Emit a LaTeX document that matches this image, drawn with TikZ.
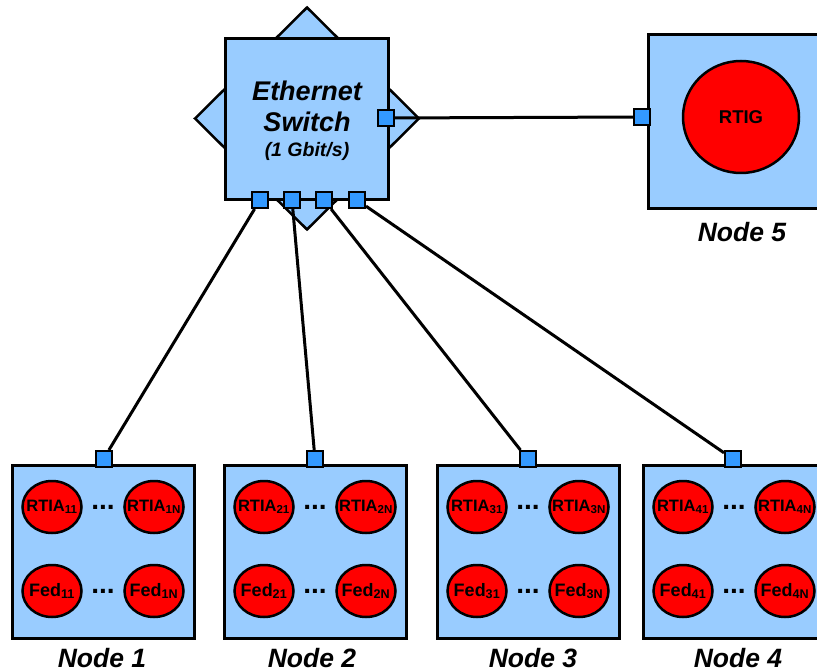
\documentclass[tikz,border=0pt]{standalone}
\usepackage{fontspec}
\setmainfont{Liberation Sans}
\usetikzlibrary{shapes.geometric}
\definecolor{boxblue}{RGB}{153,204,255}
\definecolor{portblue}{RGB}{51,153,255}
\definecolor{fedred}{RGB}{255,0,0}

\begin{document}
\begin{tikzpicture}[x=1pt,y=-1pt,
    hostbox/.style={draw,line width=3pt,fill=boxblue,minimum width=182pt,minimum height=173pt},
    port/.style={draw,line width=2pt,fill=portblue,minimum size=16pt,inner sep=0pt},
    proc/.style={draw,line width=2.5pt,fill=fedred,ellipse,minimum width=59pt,minimum height=52pt,inner xsep=-6pt,inner ysep=0pt,font=\fontsize{16.5}{16.5}\selectfont\bfseries},
    link/.style={line width=3pt},
    nodelabel/.style={anchor=base,inner sep=0pt,font=\fontsize{26.5}{26.5}\selectfont\bfseries\itshape},
    dots/.style={font=\fontsize{28}{28}\selectfont\bfseries,inner sep=0pt}]
    %\draw[help lines] (0,0) grid[step=50] (817,671);
    \useasboundingbox (0,0) rectangle (817,671);
    \clip (0,0) rectangle (817,671);
    % switch
    \node[draw,diamond,line width=2.5pt,fill=boxblue,minimum width=225pt,minimum height=223pt,inner sep=0pt] (swd) at (307,118.5) {};
    \node[hostbox,minimum width=163pt,minimum height=161pt] (sw) at (306.5,119.5) {};
    \node[anchor=base,font=\fontsize{27}{27}\selectfont\bfseries\itshape] (swa) at (307,101) {Ethernet};
    \node[anchor=base,font=\fontsize{27}{27}\selectfont\bfseries\itshape] (swb) at (307,132) {Switch};
    \node[anchor=base,font=\fontsize{19.5}{19.5}\selectfont\bfseries\itshape] (swc) at (307,157) {(1 Gbit/s)};
    \node[port] (se) at (386,118) {};
    \foreach \k/\x in {1/260,2/292,3/324,4/357}
        \node[port] (s\k) at (\x,200) {};
    % node 5
    \node[hostbox,minimum height=174pt] (h5) at (739,122) {};
    \node[proc,minimum width=116pt,minimum height=112pt,font=\fontsize{18.5}{18.5}\selectfont\bfseries] (rtig) at (741,117) {RTIG};
    \node[port] (p5) at (642,117) {};
    \node[nodelabel] (l5) at (742,242) {Node 5};
    % nodes 1-4
    \foreach \i/\x/\lx in {1/103/102,2/315/312,3/528/533,4/734/738}{
        \node[hostbox] (h\i) at (\x,551.5) {};
        \node[proc] (r\i a) at (\x-51,507) {RTIA\textsubscript{\i1}};
        \node[proc] (r\i b) at (\x+51,507) {RTIA\textsubscript{\i N}};
        \node[proc,font=\fontsize{18}{18}\selectfont\bfseries] (f\i a) at (\x-51,591) {Fed\textsubscript{\i1}};
        \node[proc,font=\fontsize{18}{18}\selectfont\bfseries] (f\i b) at (\x+51,591) {Fed\textsubscript{\i N}};
        \node[dots] (dr\i) at (\x,507) {...};
        \node[dots] (df\i) at (\x,591) {...};
        \node[port] (p\i) at (\x-0.5*\i+1,459) {};
        \node[nodelabel] (l\i) at (\lx,667) {Node \i};
    }
    % links
    \draw[link] (se) -- (p5);
    \foreach \k in {1,...,4}
        \draw[link] (s\k) -- (p\k);
\end{tikzpicture}
\end{document}
